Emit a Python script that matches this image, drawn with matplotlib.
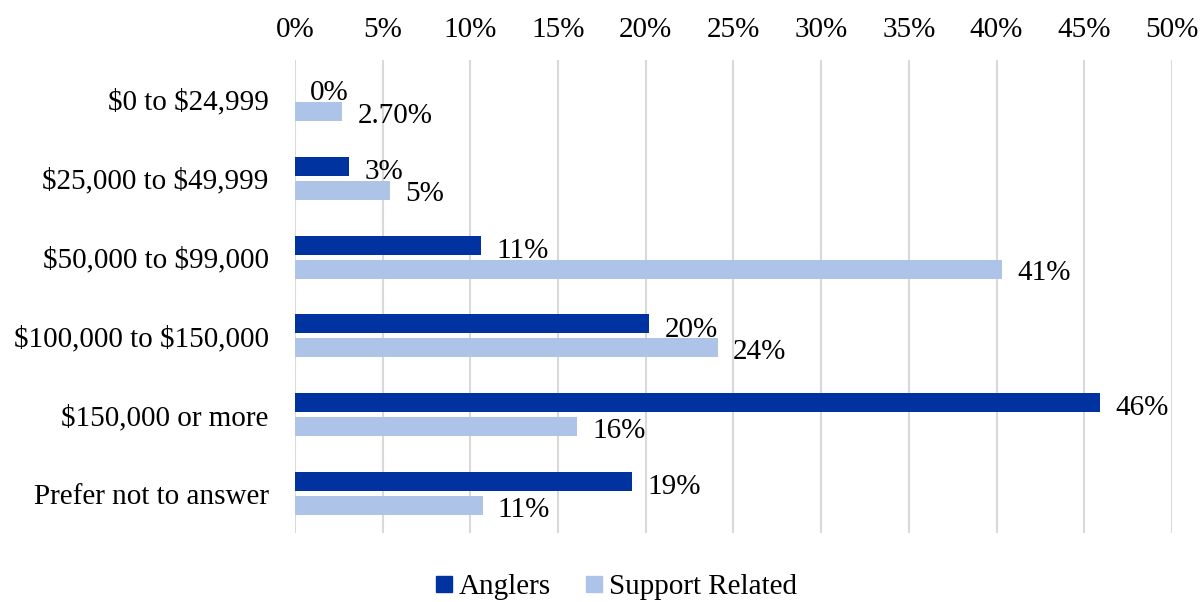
import matplotlib
matplotlib.use("Agg")
import matplotlib.pyplot as plt
import numpy as np
from matplotlib.lines import Line2D

plt.rcParams['font.family'] = ['Liberation Serif', 'DejaVu Serif']
plt.rcParams['text.parse_math'] = False

categories = ["$0 to $24,999", "$25,000 to $49,999", "$50,000 to $99,000",
              "$100,000 to $150,000", "$150,000 or more", "Prefer not to answer"]
anglers = [0.0, 3.1, 10.6, 20.2, 45.9, 19.2]
support = [2.7, 5.4, 40.3, 24.1, 16.1, 10.7]
anglers_labels = ["0%", "3%", "11%", "20%", "46%", "19%"]
support_labels = ["2.70%", "5%", "41%", "24%", "16%", "11%"]
xticks = [0, 5, 10, 15, 20, 25, 30, 35, 40, 45, 50]

c_dark = "#0033A0"
c_light = "#AEC3E8"

fig = plt.figure(figsize=(12.02, 6.02), dpi=100)
ax = fig.add_axes([0.2454, 0.1146, 0.7296, 0.7857])

y = np.arange(len(categories))
off = 0.152
h = 0.24
ax.barh(y - off, anglers, height=h, color=c_dark, zorder=3)
ax.barh(y + off, support, height=h, color=c_light, zorder=3)

fs = 21
for yi, v, lab in zip(y, anglers, anglers_labels):
    ax.annotate(lab, (v, yi - off), xytext=(11, -4), textcoords='offset points',
                va='center', ha='left', fontsize=fs, color='black')
for yi, v, lab in zip(y, support, support_labels):
    ax.annotate(lab, (v, yi + off), xytext=(11, -3), textcoords='offset points',
                va='center', ha='left', fontsize=fs, color='black')

ax.set_xlim(0, 50)
ax.set_ylim(len(categories) - 0.5, -0.5)
ax.set_xticks(xticks)
ax.set_xticklabels([f"{t}%" for t in xticks], fontsize=fs)
ax.xaxis.tick_top()
ax.set_yticks(y)
ax.set_yticklabels(categories, fontsize=fs)
ax.tick_params(axis='both', length=0)
ax.tick_params(axis='x', pad=12)
ax.tick_params(axis='y', pad=19)
ax.grid(axis='x', color='#D9D9D9', linewidth=1.5, zorder=0)
for s in ax.spines.values():
    s.set_visible(False)

handles = [Line2D([], [], marker='s', linestyle='none', markersize=11, color=c_dark),
           Line2D([], [], marker='s', linestyle='none', markersize=11, color=c_light)]
fig.legend(handles, ["Anglers", "Support Related"], loc='center', bbox_to_anchor=(0.51, 0.025),
           ncol=2, frameon=False, fontsize=fs, handletextpad=0.0, columnspacing=1.0,
           handlelength=1.0)

fig.savefig("out.png", dpi=100)
